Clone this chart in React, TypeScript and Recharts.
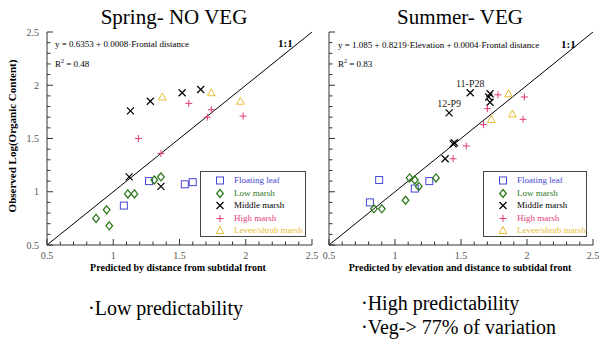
import React from 'react'
import { ScatterChart, Scatter, XAxis, YAxis, ReferenceLine } from 'recharts'

// axis ticks every 0.1, labels on the halves
const axisTicks = [0.5, 0.6, 0.7, 0.8, 0.9, 1, 1.1, 1.2, 1.3, 1.4, 1.5, 1.6, 1.7, 1.8, 1.9, 2, 2.1, 2.2, 2.3, 2.4, 2.5]
const tickLabels = ['0.5', '1', '1.5', '2', '2.5']

const groupNames = ['Floating leaf', 'Low marsh', 'Middle marsh', 'High marsh', 'Levee/shrub marsh']

// Spring - predicted by distance from subtidal front
const springFloating = [
  { x: 1.08, y: 0.87 },
  { x: 1.27, y: 1.1 },
  { x: 1.54, y: 1.07 },
  { x: 1.6, y: 1.09 },
]
const springLow = [
  { x: 0.87, y: 0.75 },
  { x: 0.95, y: 0.83 },
  { x: 0.97, y: 0.68 },
  { x: 1.11, y: 0.98 },
  { x: 1.16, y: 0.98 },
  { x: 1.31, y: 1.11 },
  { x: 1.36, y: 1.14 },
]
const springMiddle = [
  { x: 1.12, y: 1.14 },
  { x: 1.36, y: 1.05 },
  { x: 1.13, y: 1.76 },
  { x: 1.28, y: 1.85 },
  { x: 1.52, y: 1.93 },
  { x: 1.66, y: 1.96 },
]
const springHigh = [
  { x: 1.19, y: 1.5 },
  { x: 1.36, y: 1.36 },
  { x: 1.57, y: 1.83 },
  { x: 1.71, y: 1.7 },
  { x: 1.74, y: 1.77 },
  { x: 1.98, y: 1.71 },
]
const springLevee = [
  { x: 1.37, y: 1.89 },
  { x: 1.74, y: 1.93 },
  { x: 1.96, y: 1.85 },
]

// Summer - predicted by elevation and distance to subtidal front
const summerFloating = [
  { x: 0.81, y: 0.9 },
  { x: 0.88, y: 1.11 },
  { x: 1.15, y: 1.03 },
  { x: 1.26, y: 1.1 },
]
const summerLow = [
  { x: 0.84, y: 0.84 },
  { x: 0.9, y: 0.84 },
  { x: 1.08, y: 0.92 },
  { x: 1.11, y: 1.13 },
  { x: 1.15, y: 1.11 },
  { x: 1.18, y: 1.05 },
  { x: 1.31, y: 1.13 },
]
const summerMiddle = [
  { x: 1.38, y: 1.31 },
  { x: 1.44, y: 1.45 },
  { x: 1.45, y: 1.46 },
  { x: 1.41, y: 1.74, label: '12-P9' },
  { x: 1.57, y: 1.93, label: '11-P28' },
  { x: 1.72, y: 1.92 },
  { x: 1.71, y: 1.89 },
  { x: 1.72, y: 1.84 },
]
const summerHigh = [
  { x: 1.44, y: 1.31 },
  { x: 1.54, y: 1.43 },
  { x: 1.67, y: 1.63 },
  { x: 1.7, y: 1.78 },
  { x: 1.78, y: 1.91 },
  { x: 1.97, y: 1.68 },
  { x: 1.98, y: 1.89 },
]
const summerLevee = [
  { x: 1.73, y: 1.68 },
  { x: 1.86, y: 1.92 },
  { x: 1.89, y: 1.73 },
]

const BLUE = '#4646d6'
const GREEN = '#2e7a1c'
const BLACK = '#000'
const PINK = '#e23c74'
const YELLOW = '#e8bd32'
const FONT = "'Liberation Serif', 'Times New Roman', serif"

const Square = ({ cx, cy }: any) => (
  <rect x={cx - 3.5} y={cy - 3.5} width={7} height={7} fill="none" stroke={BLUE} strokeWidth={1} />
)
const Diamond = ({ cx, cy }: any) => (
  <path d={`M${cx},${cy - 4}L${cx + 3.3},${cy}L${cx},${cy + 4}L${cx - 3.3},${cy}Z`} fill="none" stroke={GREEN} strokeWidth={1.3} />
)
const Cross = ({ cx, cy, payload }: any) => (
  <g>
    <path d={`M${cx - 3.5},${cy - 3.5}L${cx + 3.5},${cy + 3.5}M${cx - 3.5},${cy + 3.5}L${cx + 3.5},${cy - 3.5}`} stroke={BLACK} strokeWidth={1.2} />
    {payload && payload.label ? (
      <text x={cx} y={cy - 6} textAnchor="middle" fontSize={10} fontFamily={FONT} fill="#222">
        {payload.label}
      </text>
    ) : null}
  </g>
)
const Plus = ({ cx, cy }: any) => (
  <path d={`M${cx - 3.5},${cy}L${cx + 3.5},${cy}M${cx},${cy - 3.5}L${cx},${cy + 3.5}`} stroke={PINK} strokeWidth={1} />
)
const Triangle = ({ cx, cy }: any) => (
  <path d={`M${cx},${cy - 4}L${cx + 3.8},${cy + 3}L${cx - 3.8},${cy + 3}Z`} fill="none" stroke={YELLOW} strokeWidth={1} />
)

const shapes = [Square, Diamond, Cross, Plus, Triangle]
const colors = [BLUE, GREEN, BLACK, PINK, YELLOW]

function AxisTick(props: any) {
  const { x, y, payload, side, showLabel } = props
  const v = payload.value
  const major = tickLabels.includes(String(v))
  const len = major ? 6 : 3.5
  let line
  if (side === 'bottom') line = <line x1={x} y1={y} x2={x} y2={y - len} stroke="#333" />
  else if (side === 'top') line = <line x1={x} y1={y} x2={x} y2={y + len} stroke="#333" />
  else if (side === 'left') line = <line x1={x} y1={y} x2={x + len} y2={y} stroke="#333" />
  else line = <line x1={x} y1={y} x2={x - len} y2={y} stroke="#333" />
  let label = null
  if (showLabel && major) {
    if (side === 'bottom')
      label = (
        <text x={x} y={y + 14} textAnchor="middle" fontSize={10} fontFamily={FONT} fill="#555">
          {String(v)}
        </text>
      )
    else
      label = (
        <text x={x - 8} y={y + 3.5} textAnchor="end" fontSize={10} fontFamily={FONT} fill="#555">
          {String(v)}
        </text>
      )
  }
  return (
    <g>
      {line}
      {label}
    </g>
  )
}

function Panel({ groups, yLabels, yWidth, width, marginRight }: any) {
  return (
    <ScatterChart
      width={width}
      height={280}
      margin={{ top: 32, right: marginRight, bottom: 0, left: 0 }}
      style={{ fontFamily: FONT }}
    >
      <XAxis
        type="number"
        dataKey="x"
        domain={[0.5, 2.5]}
        ticks={axisTicks}
        interval={0}
        allowDataOverflow
        height={35}
        tickSize={0}
        tickMargin={0}
        tickLine={false}
        axisLine={{ stroke: '#333' }}
        tick={(p: any) => <AxisTick {...p} side="bottom" showLabel />}
      />
      <XAxis
        xAxisId="top"
        orientation="top"
        type="number"
        dataKey="x"
        domain={[0.5, 2.5]}
        ticks={axisTicks}
        interval={0}
        allowDataOverflow
        height={0}
        tickSize={0}
        tickMargin={0}
        tickLine={false}
        axisLine={{ stroke: '#333' }}
        tick={(p: any) => <AxisTick {...p} side="top" />}
      />
      <YAxis
        type="number"
        dataKey="y"
        domain={[0.5, 2.5]}
        ticks={axisTicks}
        interval={0}
        allowDataOverflow
        width={yWidth}
        tickSize={0}
        tickMargin={0}
        tickLine={false}
        axisLine={{ stroke: '#333' }}
        tick={(p: any) => <AxisTick {...p} side="left" showLabel={yLabels} />}
      />
      <YAxis
        yAxisId="right"
        orientation="right"
        type="number"
        dataKey="y"
        domain={[0.5, 2.5]}
        ticks={axisTicks}
        interval={0}
        allowDataOverflow
        width={0}
        tickSize={0}
        tickMargin={0}
        tickLine={false}
        axisLine={{ stroke: '#333' }}
        tick={(p: any) => <AxisTick {...p} side="right" />}
      />
      <ReferenceLine
        segment={[
          { x: 0.5, y: 0.5 },
          { x: 2.5, y: 2.5 },
        ]}
        stroke="#000"
        strokeWidth={1}
      />
      {groups.map((g: any[], i: number) => (
        <Scatter key={groupNames[i]} name={groupNames[i]} data={g} shape={shapes[i]} isAnimationActive={false} />
      ))}
    </ScatterChart>
  )
}

function LegendBox({ left, width }: any) {
  return (
    <div
      style={{
        position: 'absolute',
        left,
        top: 171,
        width,
        height: 66,
        border: '1px solid #444',
        background: '#fff',
        boxSizing: 'border-box',
        fontFamily: FONT,
      }}
    >
      {groupNames.map((n, i) => {
        const Shape = shapes[i]
        return (
          <div key={n} style={{ position: 'absolute', left: 0, top: 2 + i * 12.6, height: 12, width: '100%' }}>
            <svg width={14} height={12} style={{ position: 'absolute', left: 12, top: 0 }}>
              <Shape cx={7} cy={6.5} />
            </svg>
            <span
              style={{
                position: 'absolute',
                left: 33,
                top: 0,
                fontSize: 9,
                lineHeight: '12px',
                color: colors[i],
                whiteSpace: 'nowrap',
                fontFamily: FONT,
              }}
            >
              {n}
            </span>
          </div>
        )
      })}
    </div>
  )
}

const txt = (style: any): any => ({ position: 'absolute', whiteSpace: 'nowrap', lineHeight: 1, fontFamily: FONT, ...style })

export default function App() {
  return (
    <div style={{ position: 'absolute', left: 0, top: 0, width: 600, height: 342, background: '#fff', fontFamily: FONT, overflow: 'hidden' }}>
      <div style={{ position: 'absolute', left: 0, top: 0 }}>
        <Panel groups={[springFloating, springLow, springMiddle, springHigh, springLevee]} yLabels yWidth={47} width={320} marginRight={8} />
      </div>
      <div style={{ position: 'absolute', left: 300, top: 0 }}>
        <Panel groups={[summerFloating, summerLow, summerMiddle, summerHigh, summerLevee]} yLabels={false} yWidth={29} width={300} marginRight={7} />
      </div>

      <div style={txt({ left: 174, top: 7, fontSize: 21, transform: 'translateX(-50%)' })}>Spring- NO VEG</div>
      <div style={txt({ left: 460, top: 7, fontSize: 21, transform: 'translateX(-50%)' })}>Summer- VEG</div>

      <div style={txt({ left: 55, top: 40, fontSize: 9 })}>y = 0.6353 + 0.0008·Frontal distance</div>
      <div style={txt({ left: 55, top: 58, fontSize: 9 })}>
        R<sup style={{ fontSize: 6 }}>2</sup> = 0.48
      </div>
      <div style={txt({ left: 338, top: 41, fontSize: 9 })}>y = 1.085 + 0.8219·Elevation + 0.0004·Frontal distance</div>
      <div style={txt({ left: 338, top: 58, fontSize: 9 })}>
        R<sup style={{ fontSize: 6 }}>2</sup> = 0.83
      </div>
      <div style={txt({ left: 278, top: 38, fontSize: 11, fontWeight: 'bold' })}>1:1</div>
      <div style={txt({ left: 561, top: 39, fontSize: 11, fontWeight: 'bold' })}>1:1</div>

      <LegendBox left={200} width={106} />
      <LegendBox left={483} width={104} />

      <div style={txt({ left: 178, top: 263, fontSize: 10, fontWeight: 'bold', transform: 'translateX(-50%)' })}>
        Predicted by distance from subtidal front
      </div>
      <div style={txt({ left: 460, top: 263, fontSize: 10, fontWeight: 'bold', transform: 'translateX(-50%)' })}>
        Predicted by elevation and distance to subtidal front
      </div>
      <div style={txt({ left: 12, top: 136, fontSize: 11, fontWeight: 'bold', transform: 'translate(-50%, -50%) rotate(-90deg)' })}>
        Observed Log(Organic Content)
      </div>

      <div style={txt({ left: 88, top: 298, fontSize: 20 })}>·Low predictability</div>
      <div style={txt({ left: 361, top: 293, fontSize: 20 })}>·High predictability</div>
      <div style={txt({ left: 361, top: 317, fontSize: 20 })}>·Veg-&gt; 77% of variation</div>
    </div>
  )
}
